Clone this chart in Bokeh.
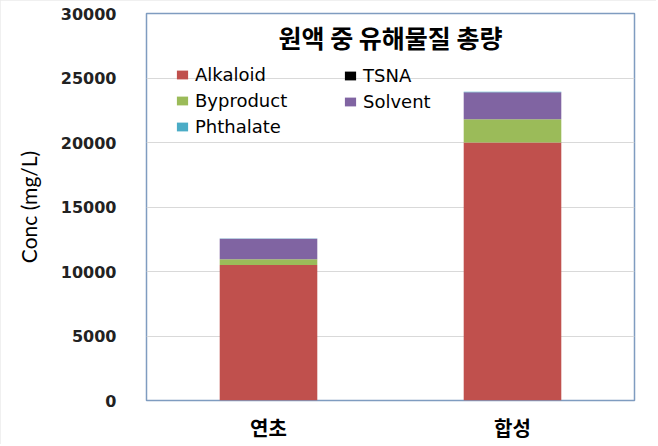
import numpy as np
from bokeh.embed import file_html
from bokeh.resources import INLINE
from bokeh.models import (ColumnDataSource, FactorRange, Range1d, FixedTicker,
                          Legend, LegendItem, Label)
from bokeh.plotting import figure

# data
categories = ["연초", "합성"]
alkaloid = [10500, 20000]
tsna = [5, 5]
byproduct = [450, 1800]
solvent = [1580, 2100]
phthalate = [20, 30]

series_names = ["Alkaloid", "TSNA", "Byproduct", "Solvent", "Phthalate"]
series_colors = ["#c0504d", "#000000", "#9bbb59", "#8064a2", "#4bacc6"]
y_ticks = [0, 5000, 10000, 15000, 20000, 25000, 30000]

source = ColumnDataSource(data=dict(
    cat=categories,
    Alkaloid=alkaloid,
    TSNA=tsna,
    Byproduct=byproduct,
    Solvent=solvent,
    Phthalate=phthalate,
))

p = figure(
    x_range=FactorRange(*categories),
    y_range=Range1d(0, 30000),
    width=656,
    height=444,
    output_backend="svg",
    toolbar_location=None,
    tools="",
    min_border_left=146,
    min_border_top=13,
    min_border_right=22,
    min_border_bottom=30,
)
# faint picture border
p.styles = {"outline": "2px solid #ebebeb", "outline-offset": "-2px"}

renderers = p.vbar_stack(series_names, x="cat", width=0.4, color=series_colors,
                         line_color=None, source=source)

# frame and grid
p.outline_line_color = "#7f9cc0"
p.outline_line_width = 1.5
p.xgrid.grid_line_color = None
p.ygrid.grid_line_color = "#d9d9d9"
p.background_fill_color = "white"
p.border_fill_color = "white"

# y axis
p.yaxis.ticker = FixedTicker(ticks=y_ticks)
p.yaxis.axis_line_color = None
p.yaxis.major_tick_line_color = None
p.yaxis.minor_tick_line_color = None
p.yaxis.major_label_text_font = "DejaVu Sans"
p.yaxis.major_label_text_font_style = "bold"
p.yaxis.major_label_text_font_size = "16px"
p.yaxis.major_label_text_color = "#222222"
p.yaxis.major_label_standoff = 24
p.yaxis.axis_label = "Conc (mg/L)"
p.yaxis.axis_label_text_font = "Lato"
p.yaxis.axis_label_text_font_style = "normal"
p.yaxis.axis_label_text_font_size = "21px"
p.yaxis.axis_label_text_color = "black"
p.yaxis.axis_label_standoff = 17

# x axis
p.xaxis.axis_line_color = None
p.xaxis.major_tick_line_color = None
p.xaxis.minor_tick_line_color = None
p.xaxis.major_label_text_font = "Noto Sans CJK KR"
p.xaxis.major_label_text_font_style = "bold"
p.xaxis.major_label_text_font_size = "20px"
p.xaxis.major_label_text_color = "black"
p.xaxis.major_label_standoff = 6

# title inside the frame
title = Label(x=244, y=364, x_units="screen", y_units="screen",
              text="원액 중 유해물질 총량", text_align="center",
              text_baseline="middle", text_font="Noto Sans CJK KR",
              text_font_style="bold", text_font_size="25px",
              text_color="black")
p.add_layout(title)

# legend as two columns
def make_legend(idx, loc):
    leg = Legend(
        items=[LegendItem(label=series_names[i], renderers=[renderers[i]]) for i in idx],
        location=loc,
        orientation="vertical",
        padding=0,
        margin=0,
        spacing=5,
        label_height=20,
        glyph_height=11,
        glyph_width=14,
        label_standoff=6,
        label_text_font="DejaVu Sans",
        label_text_font_size="18px",
        label_text_color="black",
        background_fill_alpha=0,
        border_line_color=None,
    )
    p.add_layout(leg, "center")

make_legend([0, 2, 4], (29, 263))
make_legend([1, 3], (197, 288))

open("out.html", "w").write(file_html(p, INLINE))
